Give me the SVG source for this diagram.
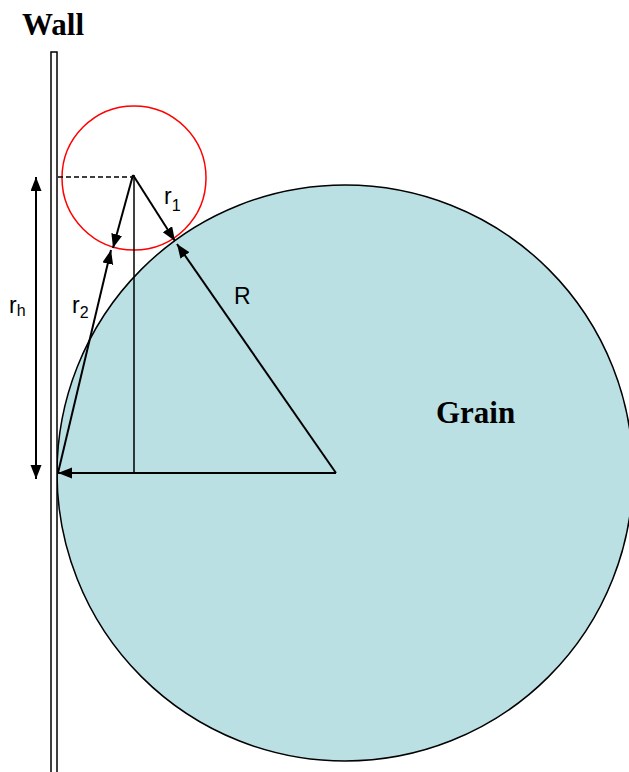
<svg xmlns="http://www.w3.org/2000/svg" width="629" height="772" viewBox="0 0 629 772">
<style>
.ln{stroke:#000;stroke-width:2;fill:none}
.thin{stroke:#000;stroke-width:1.5;fill:none}
.title{font-family:"Liberation Serif",serif;font-weight:bold;font-size:31px;fill:#000}
.lbl{font-family:"Liberation Sans",Arial,sans-serif;font-size:23px;fill:#000}
.sub{font-size:16px}
</style>
<defs>
<marker id="ah" markerUnits="userSpaceOnUse" markerWidth="15" markerHeight="12" refX="14" refY="5.5" orient="auto-start-reverse" viewBox="0 0 15 12">
<path d="M0,0 L14,5.5 L0,11 z" fill="#000"/>
</marker>
</defs>
<g id="grain">
<circle cx="345" cy="473" r="288" fill="#bae0e4" stroke="#000" stroke-width="1.5"/>
<text class="title" x="436" y="423">Grain</text>
</g>
<g id="wall">
<rect x="51" y="52" width="6" height="730" fill="#fff" stroke="#000" stroke-width="1.5"/>
<text class="title" x="22" y="35">Wall</text>
</g>
<g id="small-sphere">
<circle cx="134" cy="178" r="72" fill="none" stroke="#f00" stroke-width="1.5"/>
</g>
<g id="connectors">
<line class="ln" x1="36" y1="177" x2="36" y2="479" marker-start="url(#ah)" marker-end="url(#ah)"/>
<line class="thin" x1="58" y1="177" x2="133" y2="177" stroke-dasharray="5,3"/>
<line class="thin" x1="134" y1="175" x2="134" y2="473"/>
<line class="ln" x1="133" y1="175" x2="175" y2="241" marker-end="url(#ah)"/>
<line class="ln" x1="133" y1="175" x2="113" y2="248" marker-end="url(#ah)"/>
<line class="ln" x1="58" y1="473" x2="111" y2="250" marker-end="url(#ah)"/>
<line class="ln" x1="336" y1="473" x2="177" y2="244" marker-end="url(#ah)"/>
<line class="ln" x1="336" y1="473" x2="58" y2="473" marker-end="url(#ah)"/>
</g>
<g id="labels">
<text class="lbl" x="164" y="204">r<tspan class="sub" dy="7">1</tspan></text>
<text class="lbl" x="72" y="313">r<tspan class="sub" dy="5">2</tspan></text>
<text class="lbl" x="9" y="313">r<tspan class="sub" dy="3">h</tspan></text>
<text class="lbl" x="234" y="304">R</text>
</g>
</svg>
